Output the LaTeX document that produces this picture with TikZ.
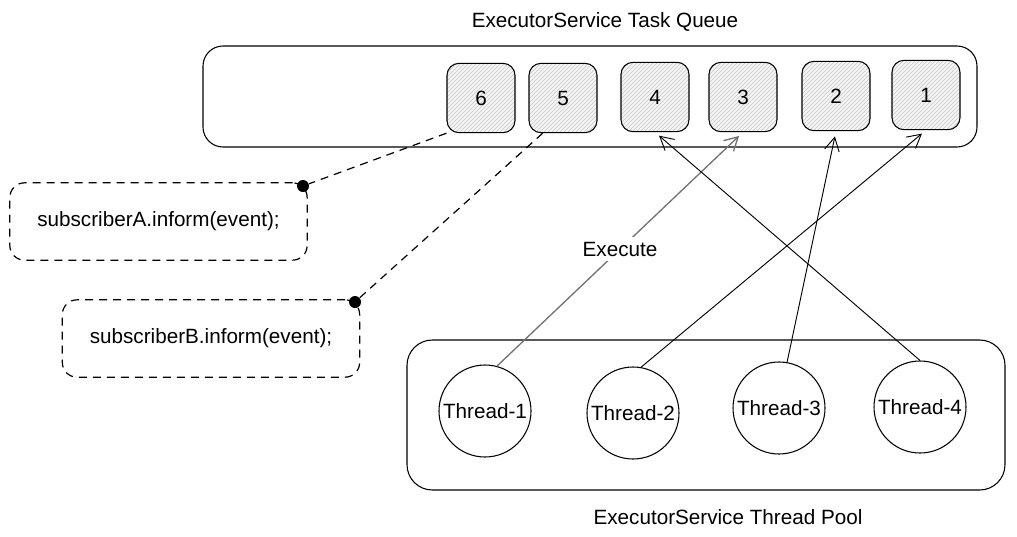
\documentclass[tikz,border=0pt]{standalone}
\usepackage{fontspec}
\setmainfont{Liberation Sans}
\usetikzlibrary{arrows.meta,patterns}

\begin{document}
\begin{tikzpicture}
  [x=0.75pt,y=-0.75pt,line width=.8pt,font=\fontsize{15.5}{18}\selectfont,
   box/.style={draw,minimum width=#1},
   cell/.style={draw,rounded corners=9pt,minimum width=51pt,minimum height=52pt,
     preaction={fill=gray!8},pattern=north east lines,pattern color=gray!45},
   thread/.style={draw,circle,minimum size=69pt,inner sep=0pt},
   link/.style={dash pattern=on 6pt off 4.5pt,line width=.9pt},
   note/.style={draw,link,rounded corners=11pt,minimum width=223pt,minimum height=58pt},
   dot/.style={circle,fill=black,inner sep=0pt,minimum size=9pt},
   run/.style={-{Straight Barb[length=10pt,width=11pt]},line width=.7pt,shorten >=4pt}]
  \useasboundingbox (0,0) rectangle (1017,536);

  % task queue
  \node (qtitle) at (605,22) {ExecutorService Task Queue};
  \node (queue) [box=580.5pt,minimum height=75.75pt,rounded corners=15pt] at (590,96.5) {};
  \foreach \n/\x/\y in {6/481/98,5/563/98,4/655/97,3/743/97,2/836/96,1/926/95}
    \node (c\n) [cell] at (\x,\y) {\n};

  % subscribers
  \node (subA) [note] at (158.5,221.5) {subscriberA.inform(event);};
  \node (subB) [note] at (211,338.5) {subscriberB.inform(event);};
  \node (dA) [dot] at (303,186) {};
  \node (dB) [dot] at (355,302) {};
  \draw[link] (c6.south west) -- (dA);
  \draw[link] (c5.240) -- (dB);

  % thread pool
  \node (pool) [box=448.5pt,minimum height=112.5pt,rounded corners=19pt] at (706,415) {};
  \node (ptitle) at (728,517) {ExecutorService Thread Pool};
  \foreach \n/\x/\y in {1/485/411,2/633/413,3/779/408,4/920/407}
    \node (t\n) [thread] at (\x,\y) {Thread-\n};

  \draw[run,black!55,line width=1pt] (t1.75) -- (c3.south)
    node[midway,fill=white,text=black] {Execute};
  \draw[run] (t2.80) -- (c1.south);
  \draw[run] (t3.80) -- (c2.south);
  \draw[run] (t4.north) -- (c4.south);

\end{tikzpicture}
\end{document}
